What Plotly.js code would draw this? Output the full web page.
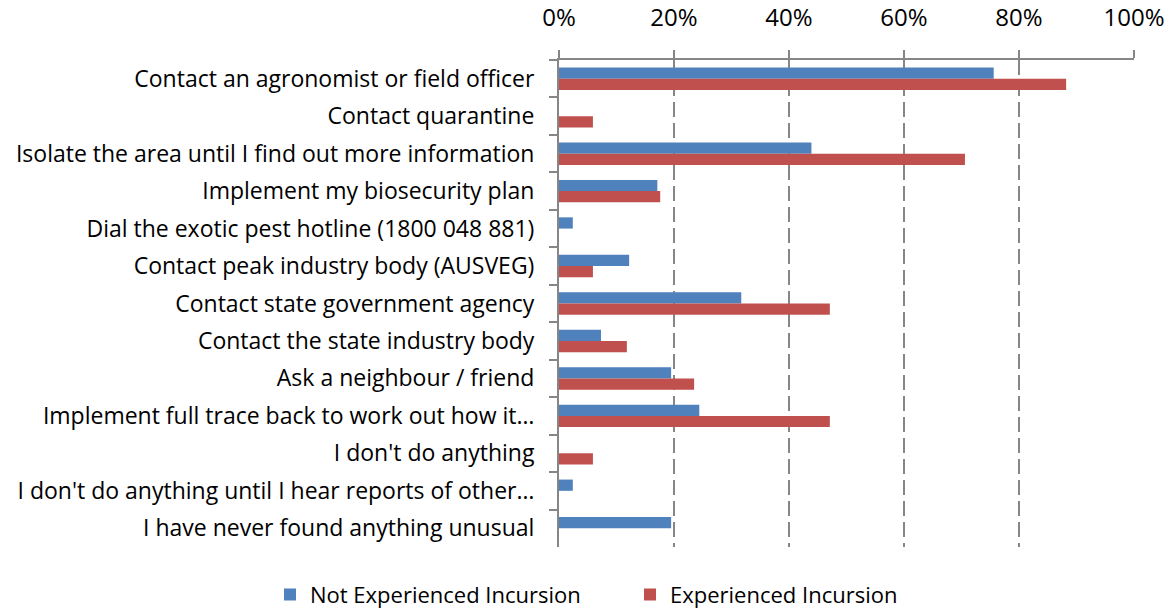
<!DOCTYPE html>
<html>
<head>
<meta charset="utf-8">
<script src="https://cdn.plot.ly/plotly-3.0.1.min.js"></script>
<style>
  html, body { margin: 0; padding: 0; background: #ffffff; }
  #chart { width: 1173px; height: 613px; }
</style>
</head>
<body>
<div id="chart"></div>
<script>
// Responses to "What would you do if you found something unusual?"
const categories = [
  "Contact an agronomist or field officer",
  "Contact quarantine",
  "Isolate the area until I find out more information",
  "Implement my biosecurity plan",
  "Dial the exotic pest hotline (1800 048 881)",
  "Contact peak industry body (AUSVEG)",
  "Contact state government agency",
  "Contact the state industry body",
  "Ask a neighbour / friend",
  "Implement full trace back to work out how it\u2026",
  "I don't do anything",
  "I don't do anything until I hear reports of other\u2026",
  "I have never found anything unusual"
];

// Share of respondents (%)
const notExperienced = [75.6, 0, 43.9, 17.1, 2.4, 12.2, 31.7, 7.3, 19.5, 24.4, 0, 2.4, 19.5];
const experienced    = [88.2, 5.9, 70.6, 17.6, 0, 5.9, 47.1, 11.8, 23.5, 47.1, 5.9, 0, 0];

const xTicks = [0, 20, 40, 60, 80, 100];
const xTickText = xTicks.map(v => v + "%");

const FONT = "Open Sans, sans-serif";
const AXIS_GREY = "#868686";

const traces = [
  {
    type: "bar",
    orientation: "h",
    name: "Not Experienced Incursion",
    y: categories,
    x: notExperienced,
    marker: { color: "#4F81BD" },
    hoverinfo: "x+y"
  },
  {
    type: "bar",
    orientation: "h",
    name: "Experienced Incursion",
    y: categories,
    x: experienced,
    marker: { color: "#C0504D" },
    hoverinfo: "x+y"
  }
];

const layout = {
  width: 1173,
  height: 613,
  margin: { l: 559, r: 39, t: 60, b: 66, pad: 0, autoexpand: false },
  paper_bgcolor: "#ffffff",
  plot_bgcolor: "#ffffff",
  barmode: "group",
  bargap: 0.4,
  bargroupgap: 0,
  font: { family: FONT, size: 23, color: "#000000" },
  showlegend: true,
  legend: {
    orientation: "h",
    // left-anchored below the plot so the legend may span the full page width
    x: -0.5026,
    xanchor: "left",
    y: -0.098,
    yanchor: "middle",
    font: { family: FONT, size: 22, color: "#000000" },
    itemwidth: 30,
    entrywidth: 315,
    entrywidthmode: "pixels",
    traceorder: "normal"
  },
  xaxis: {
    side: "top",
    range: [0, 100],
    tickvals: xTicks,
    ticktext: xTickText,
    showline: true,
    linecolor: AXIS_GREY,
    linewidth: 2,
    ticks: "outside",
    ticklen: 8,
    tickwidth: 2,
    tickcolor: AXIS_GREY,
    ticklabelstandoff: 14,
    showgrid: true,
    gridcolor: AXIS_GREY,
    gridwidth: 2,
    griddash: "15px,6px",
    zeroline: false,
    fixedrange: true,
    tickfont: { family: FONT, size: 24, color: "#000000" }
  },
  yaxis: {
    type: "category",
    autorange: "reversed",
    showline: true,
    linecolor: AXIS_GREY,
    linewidth: 2,
    ticks: "outside",
    tickson: "boundaries",
    ticklen: 8,
    tickwidth: 2,
    tickcolor: AXIS_GREY,
    showgrid: false,
    zeroline: false,
    fixedrange: true,
    ticklabelstandoff: 18,
    tickfont: { family: FONT, size: 23, color: "#000000" }
  }
};

Plotly.newPlot("chart", traces, layout, { displayModeBar: false, staticPlot: true });
</script>
</body>
</html>
